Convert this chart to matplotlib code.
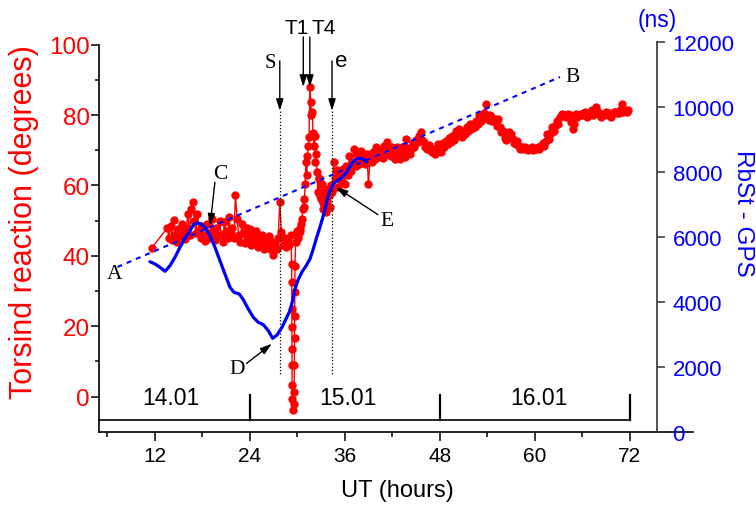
import numpy as np
import matplotlib
matplotlib.use("Agg")
import matplotlib.pyplot as plt
from matplotlib.ticker import FixedLocator

plt.rcParams["font.family"] = ["Liberation Sans", "DejaVu Sans"]

# ---- torsion reaction (degrees), red, left axis ----
first_h = [11.6]
first_v = [42.2]

seg2_start = 13.6  # 0.2 h step
seg2_v = [47.9, 45.0, 48.6, 44.5, 50.3, 46.0, 44.0, 47.5, 45.5, 49.0,
          46.5, 44.8, 48.0, 51.9, 46.0, 53.4, 55.3, 50.0, 46.5, 52.0,
          47.0, 45.0, 48.5, 46.0, 44.2, 49.0, 46.5, 45.0, 50.5, 47.0,
          44.5, 48.0, 45.5, 50.0, 46.0, 44.0, 49.5, 47.0, 45.0, 51.0,
          46.5, 48.0, 45.0, 57.3, 50.5, 46.0, 44.0, 49.0, 46.5, 43.5,
          48.0, 45.0, 47.5, 43.0, 46.0, 44.0, 47.0, 42.5, 45.5, 43.5,
          46.0, 42.0, 44.5, 43.0, 45.5, 42.0, 44.0, 40.3, 43.5, 42.0,
          45.0, 55.3, 46.8, 43.0, 45.0, 42.5, 44.5, 43.0, 46.0]

dive_h = [29.30, 29.31, 29.32, 29.33, 29.34, 29.35, 29.36, 29.37,
          29.45, 29.55, 29.62, 29.64, 29.66, 29.68, 29.70, 29.72]
dive_v = [37.7, 32.6, 25.0, 19.9, 13.6, 8.9, 3.2, -0.6,
          -3.9, -2.0, 1.3, 9.0, 16.5, 23.0, 29.8, 37.0]

seg3_start = 29.8  # 0.1 h step
seg3_v = [44.0, 45.5, 47.0, 45.0, 46.5, 48.0, 47.0, 49.0, 50.5, 53.4,
          56.2, 54.0, 60.5, 66.7, 63.0, 68.5, 71.3, 73.8, 87.9, 83.6,
          79.9, 80.9, 75.0, 71.3, 74.0, 66.7, 69.0, 63.8, 58.0, 62.0,
          61.9, 57.0, 56.2, 60.5, 55.0, 53.4, 58.0, 54.5, 57.1, 52.5,
          56.0, 59.0, 54.0, 57.5, 53.8, 60.0, 58.0]

seg4_start = 34.6  # 0.2 h step
seg4_v = [66.6, 62.0, 64.5, 59.5, 63.5, 61.0, 64.7, 60.5, 65.5, 63.0,
          68.5, 64.0, 66.5, 70.4, 65.5, 69.0, 66.0, 69.9, 67.0, 68.5,
          66.0, 69.0, 60.5, 67.5, 66.6, 69.5, 67.5, 70.9, 69.5, 68.0,
          70.0, 67.8, 71.3, 69.0, 72.3, 70.5, 68.5, 70.9, 69.0, 67.5,
          71.0, 69.0, 67.6]

seg5_start = 43.2  # 0.2 h step
seg5_v = [71.0, 69.0, 68.0, 73.2, 70.5, 69.0, 70.4, 72.0, 71.0, 73.0,
          72.3, 74.0, 75.1, 73.0, 72.3, 71.0, 70.4, 71.5, 70.0, 69.5,
          70.4, 69.0, 70.4, 71.8, 70.5, 69.5, 72.0, 71.0, 72.5, 71.8,
          73.5, 72.3, 74.0, 73.0, 75.5, 74.0, 76.1, 75.1, 73.7, 75.5,
          74.6, 76.5, 75.5, 77.5, 76.0, 77.0, 76.5, 78.4, 77.5, 79.9,
          78.4, 79.0, 80.5, 83.2, 79.9, 78.5, 80.0, 78.4, 79.0, 78.9,
          77.0, 78.9, 76.6, 75.1, 75.5, 73.5, 72.8, 74.0, 75.1, 74.6,
          73.2, 72.0, 71.8, 72.5, 71.3, 70.4, 71.0, 70.4, 71.0, 70.4,
          70.0, 70.4, 70.8, 70.0, 70.4, 70.4, 71.0, 70.4, 71.3, 72.0,
          71.3, 72.5, 74.6, 73.2, 75.0, 76.6, 75.5, 77.0, 78.4, 77.5,
          79.5, 80.3, 79.9, 80.0, 79.5, 80.3, 79.9, 78.0, 76.1, 77.5,
          80.3, 79.5, 80.0, 80.3, 79.9, 80.5, 80.8, 79.5, 80.0, 80.8,
          81.3, 79.9, 80.5, 82.2, 81.0, 80.0, 79.5, 80.3, 79.9, 80.8,
          80.0, 80.5, 79.5, 80.3, 80.8, 81.0, 80.5, 80.5, 81.3, 83.2,
          81.0, 81.5, 80.8, 81.3]

# ---- RbSt - GPS (ns), blue, right axis ----
gps_h = [11.40, 12.04, 12.67, 13.30, 13.93, 14.56, 15.19, 15.83, 16.46, 16.87,
         17.30, 17.81, 18.35, 18.98, 19.61, 20.24, 20.87, 21.51, 22.01, 22.68,
         23.19, 23.82, 24.45, 25.08, 25.72, 26.35, 26.90, 27.45, 28.08, 28.58,
         29.09, 29.47, 29.72, 30.10, 30.60, 31.11, 31.61, 32.03, 32.46, 32.88,
         33.29, 33.72, 34.14, 34.56, 34.99, 35.40, 35.82, 36.25, 36.67, 37.08,
         37.51, 37.93, 38.35, 38.75]
gps_ns = [5231, 5160, 5058, 4935, 5108, 5366, 5674, 5951, 6185, 6360,
          6422, 6400, 6289, 6031, 5674, 5262, 4852, 4443, 4289, 4237,
          4062, 3775, 3520, 3366, 3292, 3108, 2874, 2975, 3212, 3468,
          3723, 4083, 4391, 4668, 4914, 5098, 5314, 5622, 5982, 6298,
          6646, 7068, 7415, 7622, 7714, 7775, 7868, 7982, 8175, 8308,
          8391, 8412, 8391, 8298]

# trend line A -> B (ns)
trend_h = [7.3, 63.2]
trend_ns = [5068, 10914]

# date bar
day_edges = [24, 48, 72]
day_labels = ["14.01", "15.01", "16.01"]
day_label_h = [14.1, 36.4, 60.5]


def segment(start, step, vals):
    return [round(start + step * i, 3) for i in range(len(vals))]


red_h = (first_h + segment(seg2_start, 0.2, seg2_v) + dive_h
         + segment(seg3_start, 0.1, seg3_v) + segment(seg4_start, 0.2, seg4_v)
         + segment(seg5_start, 0.2, seg5_v))
red_v = first_v + seg2_v + dive_v + seg3_v + seg4_v + seg5_v

W, H = 756, 506
fig = plt.figure(figsize=(W / 100, H / 100), dpi=100)
x0, x1 = 99.3, 693.0
yb, yt_left, yt_right = 432.7, 45.7, 42.7
ax = fig.add_axes([x0 / W, 1 - yb / H, (x1 - x0) / W, (yb - yt_left) / H])
ax2 = fig.add_axes([x0 / W, 1 - yb / H, (x1 - x0) / W, (yb - yt_right) / H])

ax.plot(red_h, red_v, "-o", color="#ff0000", lw=1.0, ms=5.0, mec="#ff0000")
ax.set_xlim(5, 80)
ax.set_ylim(-10, 100)
for s in ("top", "right"):
    ax.spines[s].set_visible(False)
for s in ("left", "bottom"):
    ax.spines[s].set_linewidth(1.2)
ax.xaxis.set_major_locator(FixedLocator([12, 24, 36, 48, 60, 72]))
ax.xaxis.set_minor_locator(FixedLocator([6, 18, 30, 42, 54, 66]))
ax.yaxis.set_major_locator(FixedLocator([0, 20, 40, 60, 80, 100]))
ax.yaxis.set_minor_locator(FixedLocator([10, 30, 50, 70, 90]))
ax.tick_params(axis="x", which="major", direction="out", length=6.5, width=1.1,
               labelsize=15, pad=3.5)
ax.tick_params(axis="x", which="minor", direction="out", length=3.4, width=1.1)
ax.tick_params(axis="y", which="major", direction="out", length=5.5, width=1.1,
               labelsize=17.5, labelcolor="#ff0000", pad=1.5)
ax.tick_params(axis="y", which="minor", direction="out", length=3.2, width=1.1)

# right axis
ax2.patch.set_visible(False)
ax2.plot(trend_h, trend_ns, color="#0000ff", lw=1.5, dashes=(2.4, 2.4))
ax2.plot(gps_h, gps_ns, color="#0000ff", lw=2.3, solid_capstyle="round")
ax2.set_xlim(5, 80)
ax2.set_ylim(0, 12000)
for s in ("top", "left", "bottom"):
    ax2.spines[s].set_visible(False)
ax2.spines["right"].set_position(("axes", (75.4 - 5) / 75))
ax2.spines["right"].set_linewidth(1.2)
ax2.spines["right"].set_color("#333333")
ax2.xaxis.set_visible(False)
ax2.yaxis.tick_right()
ax2.yaxis.set_major_locator(FixedLocator(list(range(0, 12001, 2000))))
ax2.tick_params(axis="y", direction="out", length=6, width=1.1, labelsize=16,
                labelcolor="#0000ff", pad=5.5, color="#333333")

# date bar
ax.plot([5, 72], [-6.8, -6.8], color="black", lw=1.2, clip_on=False)
for d in day_edges:
    ax.plot([d, d], [-6.8, 0.3], color="black", lw=1.6, clip_on=False)
for lab, hx in zip(day_labels, day_label_h):
    ax.text(hx, -0.3, lab, ha="center", va="center", fontsize=16.5)

# vertical markers S / e
for hx in (27.8, 34.4):
    ax.plot([hx, hx], [6.3, 81.7], color="black", lw=0.9, ls=":")
arrow = dict(arrowstyle="-|>,head_length=0.7,head_width=0.22", color="black",
             lw=1.0, shrinkA=0, shrinkB=0)
for hx, top, tip in [(27.8, 95.4, 81.2), (34.4, 95.4, 81.2),
                     (30.77, 102.2, 88.0), (31.6, 102.2, 88.0)]:
    ax.annotate("", xy=(hx, tip), xytext=(hx, top), arrowprops=arrow,
                annotation_clip=False)
ax.text(26.6, 95.0, "S", fontsize=15, family="Liberation Serif",
        ha="center", va="center")
ax.text(35.5, 95.4, "e", fontsize=16, ha="center", va="center")
ax.text(29.9, 104.9, "T1", fontsize=15, ha="center", va="center", clip_on=False)
ax.text(33.4, 104.9, "T4", fontsize=15, ha="center", va="center", clip_on=False)

# point labels
serif = dict(family="Liberation Serif", fontsize=15.5, ha="center", va="center")
ax.text(6.9, 34.9, "A", **serif)
ax.text(64.8, 91.0, "B", **serif)
ax.text(20.25, 63.3, "C", **serif)
ax.text(22.4, 7.9, "D", **serif)
ax.text(41.4, 50.0, "E", **serif)
ax.annotate("", xy=(19.0, 48.6), xytext=(19.6, 60.9), arrowprops=arrow)
ax.annotate("", xy=(26.8, 15.0), xytext=(23.6, 9.4), arrowprops=arrow)
ax.annotate("", xy=(34.9, 59.5), xytext=(40.2, 51.7), arrowprops=arrow)

# axis titles
fig.text(397 / W, 1 - 491 / H, "UT (hours)", ha="center", va="center", fontsize=17)
fig.text(24 / W, 1 - 222 / H, "Torsind reaction (degrees)", ha="center",
         va="center", rotation=90, fontsize=22, color="#ff0000")
fig.text(743 / W, 1 - 213.5 / H, "RbSt - GPS", ha="center", va="center",
         rotation=-90, fontsize=17.5, color="#0000ff")
fig.text(657 / W, 1 - 21 / H, "(ns)", ha="center", va="center", fontsize=16.5,
         color="#0000ff")

fig.savefig("out.png", dpi=100)
